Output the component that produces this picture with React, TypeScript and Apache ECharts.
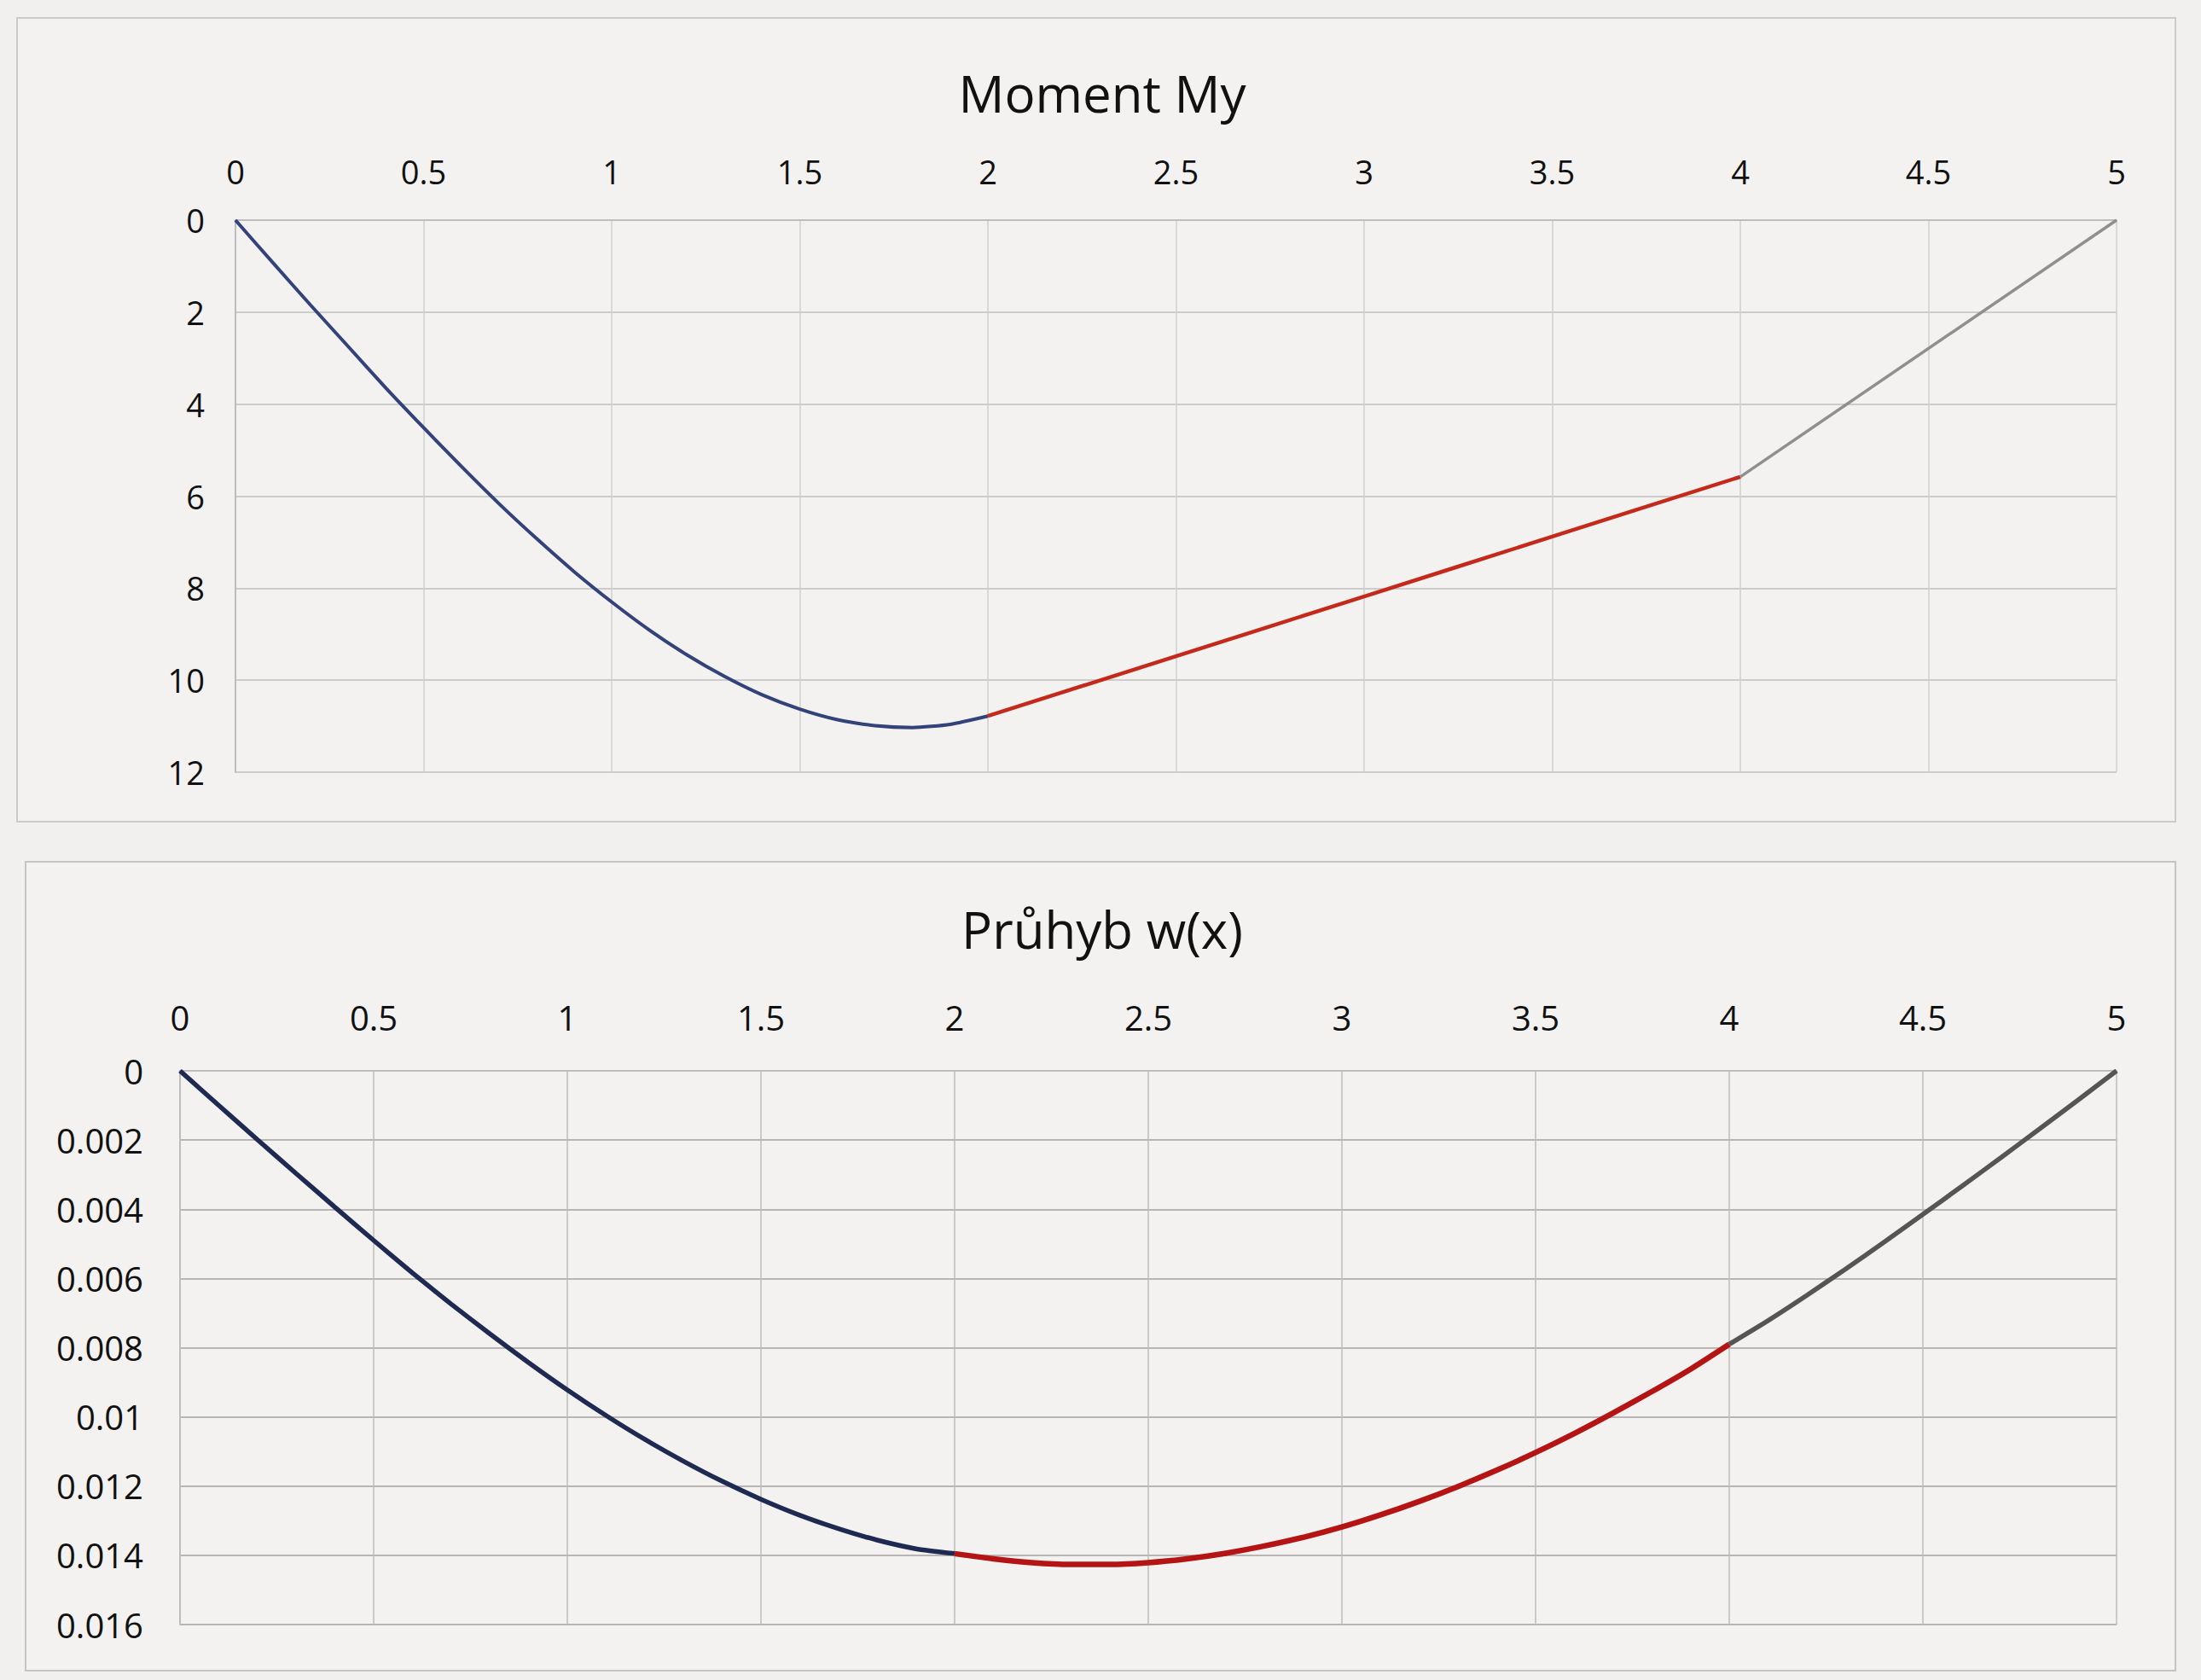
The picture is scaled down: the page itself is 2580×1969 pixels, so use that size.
import React, { useEffect, useRef } from "react";
import * as echarts from "echarts";

// ---- Moment My ----
const momentX1 = [0, 0.1, 0.2, 0.3, 0.4, 0.5, 0.6, 0.7, 0.8, 0.9, 1, 1.1, 1.2, 1.3, 1.4, 1.5, 1.6, 1.7, 1.8, 1.9, 2];
const momentBlue = [0, 0.93, 1.85, 2.75, 3.65, 4.51, 5.35, 6.16, 6.92, 7.64, 8.3, 8.91, 9.45, 9.92, 10.32, 10.63, 10.86, 10.99, 11.03, 10.96, 10.78];
const momentX2 = [2, 2.5, 3, 3.5, 4];
const momentRed = [10.78, 9.48, 8.18, 6.88, 5.58];
const momentX3 = [4, 5];
const momentGray = [5.58, 0];

// ---- Průhyb w(x) ----
const defX1 = [0, 0.1, 0.2, 0.3, 0.4, 0.5, 0.6, 0.7, 0.8, 0.9, 1, 1.1, 1.2, 1.3, 1.4, 1.5, 1.6, 1.7, 1.8, 1.9, 2];
const defBlue = [0, 0.001, 0.00199, 0.00297, 0.00394, 0.0049, 0.00584, 0.00674, 0.0076, 0.00843, 0.00922, 0.00996, 0.01065, 0.01128, 0.01186, 0.01238, 0.01284, 0.01323, 0.01356, 0.01381, 0.01395];
const defX2 = [2, 2.1, 2.2, 2.3, 2.4, 2.5, 2.6, 2.7, 2.8, 2.9, 3, 3.1, 3.2, 3.3, 3.4, 3.5, 3.6, 3.7, 3.8, 3.9, 4];
const defRed = [0.01395, 0.0141, 0.01421, 0.01426, 0.01426, 0.01421, 0.0141, 0.01394, 0.01373, 0.01348, 0.01318, 0.01283, 0.01244, 0.01201, 0.01154, 0.01103, 0.01048, 0.00989, 0.00927, 0.00862, 0.0079];
const defX3 = [4, 4.1, 4.2, 4.3, 4.4, 4.5, 4.6, 4.7, 4.8, 4.9, 5];
const defGray = [0.0079, 0.00722, 0.00649, 0.00573, 0.00495, 0.00415, 0.00334, 0.00252, 0.00169, 0.00085, 0];

const xTicks = { min: 0, max: 5, interval: 0.5 };
const momentTicks = { min: 0, max: 12, interval: 2 };
const defTicks = { min: 0, max: 0.016, interval: 0.002 };

const titles = ["Moment My", "Průhyb w(x)"];

const zip = (xs: number[], ys: number[]) => xs.map((x, i) => [x, ys[i]]);

const FONT = "Open Sans";

export default function App() {
  const ref = useRef<HTMLDivElement>(null);
  useEffect(() => {
    if (!ref.current) return;
    const chart = echarts.init(ref.current, null, { renderer: "svg" });
    const mkX = (gi: number, margin: number, gridColor: string, fs: number) => ({
      gridIndex: gi,
      type: "value",
      position: "top",
      ...xTicks,
      axisLine: { show: true, onZero: false, lineStyle: { color: "#bdbdbd", width: 2 } },
      axisTick: { show: false },
      axisLabel: { color: "#111", fontSize: fs, fontFamily: FONT, margin },
      splitLine: { show: true, lineStyle: { color: gridColor, width: 1.5 } },
    });
    const mkY = (gi: number, ticks: any, margin: number, gridColor: string, fs: number, fmt?: (v: number) => string) => ({
      gridIndex: gi,
      type: "value",
      inverse: true,
      ...ticks,
      axisLine: { show: true, onZero: false, lineStyle: { color: "#bdbdbd", width: 2 } },
      axisTick: { show: false },
      axisLabel: { color: "#111", fontSize: fs, fontFamily: FONT, margin, formatter: fmt },
      splitLine: { show: true, lineStyle: { color: gridColor, width: 2 } },
    });
    const line = (gi: number, data: number[][], color: string, width: number) => ({
      type: "line",
      xAxisIndex: gi,
      yAxisIndex: gi,
      data,
      smooth: 0.2,
      showSymbol: false,
      symbol: "none",
      lineStyle: { color, width },
      z: 5,
    });
    chart.setOption({
      animation: false,
      backgroundColor: "#f1f0ee",
      graphic: [
        {
          type: "rect",
          shape: { x: 20, y: 21, width: 2530, height: 942 },
          style: { fill: "#f3f2f0", stroke: "#cbcbcb", lineWidth: 2 },
          z: -10,
        },
        {
          type: "rect",
          shape: { x: 30, y: 1010, width: 2520, height: 948 },
          style: { fill: "#f3f2f0", stroke: "#c4c4c4", lineWidth: 2 },
          z: -10,
        },
        {
          type: "text",
          x: 1292,
          y: 109,
          style: {
            text: titles[0],
            textAlign: "center",
            textVerticalAlign: "middle",
            fontSize: 60,
            fontFamily: FONT,
            fill: "#111",
          },
        },
        {
          type: "text",
          x: 1292,
          y: 1089,
          style: {
            text: titles[1],
            textAlign: "center",
            textVerticalAlign: "middle",
            fontSize: 60,
            fontFamily: FONT,
            fill: "#111",
          },
        },
      ],
      grid: [
        { left: 276, top: 258, right: 99, height: 647, show: false },
        { left: 211, top: 1255, right: 99, height: 649, show: false },
      ],
      xAxis: [mkX(0, 38, "#cfcfcf", 38), mkX(1, 43, "#bcbcbc", 40)],
      yAxis: [
        mkY(0, momentTicks, 36, "#cccccc", 38),
        mkY(1, defTicks, 43, "#b9b5b5", 40, (v: number) => String(parseFloat(v.toFixed(3)))),
      ],
      series: [
        line(0, zip(momentX1, momentBlue), "#34427a", 4),
        line(0, zip(momentX2, momentRed), "#c42a1c", 4.5),
        line(0, zip(momentX3, momentGray), "#8f8f8f", 3.5),
        line(1, zip(defX1, defBlue), "#1f2a52", 5.5),
        line(1, zip(defX2, defRed), "#b41414", 6.5),
        line(1, zip(defX3, defGray), "#555555", 5.5),
      ],
    });
    return () => chart.dispose();
  }, []);
  return (
    <div
      ref={ref}
      style={{ position: "fixed", left: 0, top: 0, width: 2580, height: 1969 }}
    />
  );
}
